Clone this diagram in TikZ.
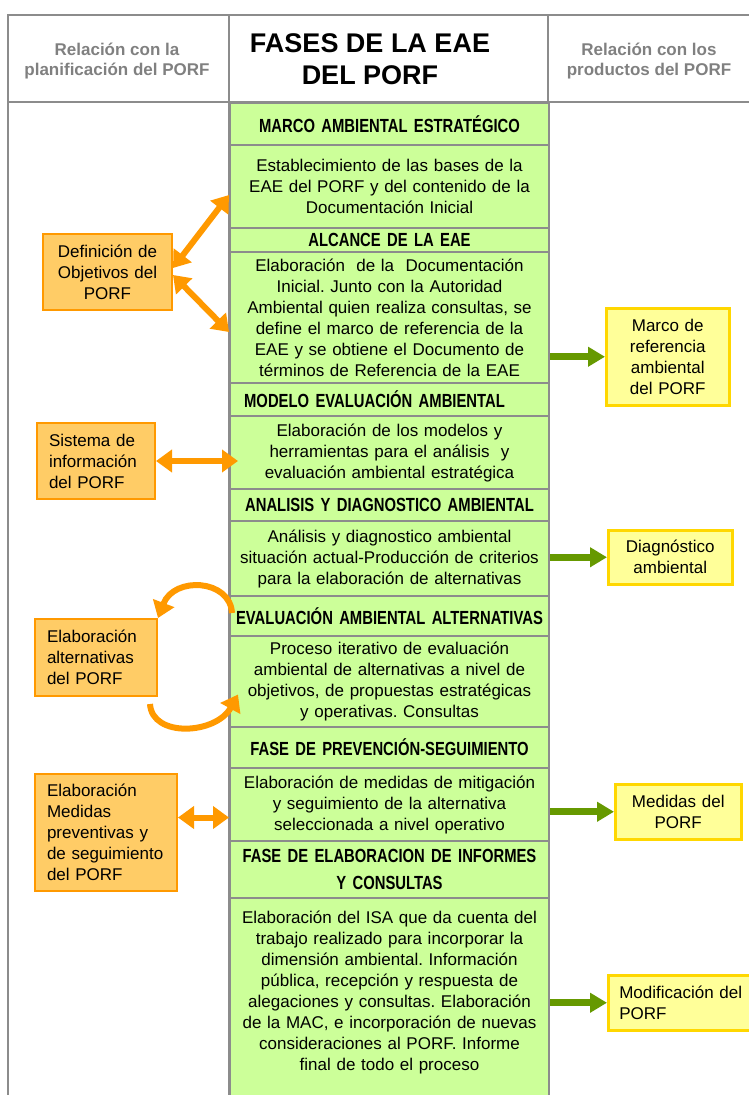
\documentclass[tikz,border=0pt]{standalone}
\usepackage{fontspec}
\setmainfont{Liberation Sans}
\newfontfamily\fasefont[FakeStretch=0.78]{Liberation Sans}
\usetikzlibrary{arrows.meta}
\frenchspacing

\definecolor{gris}{HTML}{8C8C8C}
\definecolor{grisletra}{HTML}{808080}
\definecolor{verdefase}{HTML}{CCFF99}
\definecolor{verdeflecha}{HTML}{669900}
\definecolor{naranja}{HTML}{FF9900}
\definecolor{naranjaclaro}{HTML}{FFCC66}
\definecolor{amarillo}{HTML}{FFFF99}
\definecolor{amarilloborde}{HTML}{FFD700}

\begin{document}
\begin{tikzpicture}[x=1pt,y=-1pt,
    fase/.style={draw=gris,line width=2pt,fill=verdefase,anchor=north west,minimum width=319pt,text width=315pt,inner xsep=2pt,inner ysep=0pt,align=center,font=\fontsize{17}{21}\selectfont},
    titulo/.style={fase,font={\fasefont\bfseries\fontsize{19}{27}\selectfont\spaceskip=4pt plus 1pt\relax}},
    plan/.style={draw=naranja,line width=2pt,fill=naranjaclaro,anchor=north west,inner xsep=12pt,inner ysep=0pt,align=left,font=\fontsize{17}{21}\selectfont},
    producto/.style={draw=amarilloborde,line width=2.5pt,fill=amarillo,anchor=north west,inner xsep=6pt,inner ysep=0pt,align=center,font=\fontsize{17}{21}\selectfont},
    cabecera/.style={text=grisletra,align=center,font=\bfseries\fontsize{17}{20}\selectfont},
    doble/.style={naranja,line width=6pt,{Triangle[length=16pt,width=22pt]}-{Triangle[length=16pt,width=22pt]}},
    vuelta/.style={naranja,line width=6pt,-{Triangle[length=16pt,width=22pt]}},
    salida/.style={verdeflecha,line width=7pt,-{Triangle[length=17pt,width=19pt]}}]
    \useasboundingbox (0,0) rectangle (749,1095);

    % tabla
    \draw[gris,line width=2.5pt] (8,1095) -- (8,15) -- (749,15);
    \draw[gris,line width=2.5pt] (8,102) -- (749,102);
    \draw[gris,line width=2.5pt] (229,15) -- (229,1095);
    \draw[gris,line width=2.5pt] (548,15) -- (548,1095);

    \node[cabecera] (planif) at (117,61) {Relación con la\\planificación del PORF};
    \node[font=\bfseries\fontsize{27}{32}\selectfont,align=center] (fases) at (370,59) {FASES DE LA EAE\\DEL PORF};
    \node[cabecera] (productos) at (649,61) {Relación con los\\productos del PORF};

    % fases
    \node[titulo,minimum height=42pt] (marco) at (229,102) {MARCO AMBIENTAL ESTRATÉGICO};
    \node[fase,minimum height=83pt] (bases) at (229,144) {Establecimiento de las bases de la\\EAE del PORF y del contenido de la\\Documentación Inicial};
    \node[titulo,minimum height=24pt] (alcance) at (229,227) {ALCANCE DE LA EAE};
    \node[fase,minimum height=131pt] (docini) at (229,251) {Elaboración~ de la~ Documentación\\Inicial. Junto con la Autoridad\\Ambiental quien realiza consultas, se\\define el marco de referencia de la\\EAE y se obtiene el Documento de\\términos de Referencia de la EAE};
    \node[titulo,minimum height=33pt] (modelo) at (229,382) {\hspace*{-30pt}MODELO EVALUACIÓN AMBIENTAL};
    \node[fase,minimum height=73pt] (herram) at (229,415) {Elaboración de los modelos y\\herramientas para el análisis~ y\\evaluación ambiental estratégica};
    \node[titulo,minimum height=32pt] (analisis) at (229,488) {ANALISIS Y DIAGNOSTICO AMBIENTAL};
    \node[fase,minimum height=75pt] (situacion) at (229,520) {Análisis y diagnostico ambiental\\situación actual-Producción de criterios\\para la elaboración de alternativas};
    \node[titulo,minimum height=40pt] (evalalt) at (229,595) {EVALUACIÓN AMBIENTAL ALTERNATIVAS};
    \node[fase,minimum height=91pt] (proceso) at (229,635) {Proceso iterativo de evaluación\\ambiental de alternativas a nivel de\\objetivos, de propuestas estratégicas\\y operativas. Consultas};
    \node[titulo,minimum height=41pt] (prevencion) at (229,726) {FASE DE PREVENCIÓN-SEGUIMIENTO};
    \node[fase,minimum height=73pt] (mitigacion) at (229,767) {Elaboración de medidas de mitigación\\y seguimiento de la alternativa\\seleccionada a nivel operativo};
    \node[titulo,minimum height=57pt] (informes) at (229,840) {FASE DE ELABORACION DE INFORMES\\Y CONSULTAS};
    \node[fase,minimum height=200pt] (isa) at (229,897) {Elaboración del ISA que da cuenta del\\trabajo realizado para incorporar la\\dimensión ambiental. Información\\pública, recepción y respuesta de\\alegaciones y consultas. Elaboración\\de la MAC, e incorporación de nuevas\\consideraciones al PORF. Informe\\final de todo el proceso\\[-7pt]\mbox{}};

    % planificacion
    \node[plan,align=center,text width=105pt,minimum height=76pt] (objetivos) at (42,233) {Definición de\\Objetivos del\\PORF};
    \node[plan,text width=94pt,minimum height=76pt] (sistema) at (36,422) {Sistema de\\información\\del PORF};
    \node[plan,text width=98pt,minimum height=77pt] (alternativas) at (34,618) {Elaboración\\alternativas\\del PORF};
    \node[plan,text width=118pt,minimum height=117pt] (preventivas) at (34,773) {Elaboración\\Medidas\\preventivas y\\de seguimiento\\del PORF};

    % productos
    \node[producto,text width=111pt,minimum height=97pt] (marcoref) at (605,307) {Marco de\\referencia\\ambiental\\del PORF};
    \node[producto,text width=112pt,minimum height=54pt] (diagamb) at (607,529) {Diagnóstico\\ambiental};
    \node[producto,text width=114pt,minimum height=55pt] (medporf) at (614,783) {Medidas del\\PORF};
    \node[producto,align=left,inner xsep=11pt,text width=140pt,minimum height=55pt] (modporf) at (607,974) {Modificación del\\PORF};

    % flechas
    \draw[doble] ([yshift=4pt]objetivos.east) -- ([yshift=34pt]bases.south west);
    \draw[doble] ([yshift=-3pt]objetivos.east) -- ([yshift=52pt]docini.south west);
    \draw[doble,shorten >=-9pt] (sistema.east) -- (sistema.east -| herram.west);
    \coordinate (medpunto) at ([yshift=15pt]preventivas.east);
    \draw[doble] (medpunto) -- (medpunto -| mitigacion.west);

    \draw[vuelta] ([shift={(3pt,3pt)}]evalalt.west) .. controls +(-2,-34) and +(16,-42) .. (alternativas.north east);
    \draw[vuelta] ([shift={(-8pt,-7pt)}]alternativas.south east) .. controls +(2,34) and +(-22,40) .. ([shift={(9pt,-13pt)}]proceso.west);

    \draw[salida] (docini.east |- marcoref.west) -- (marcoref.west);
    \draw[salida] (situacion.east |- diagamb.west) -- (diagamb.west);
    \draw[salida] (mitigacion.east |- medporf.west) -- (medporf.west);
    \draw[salida] (isa.east |- modporf.west) -- (modporf.west);
\end{tikzpicture}
\end{document}
